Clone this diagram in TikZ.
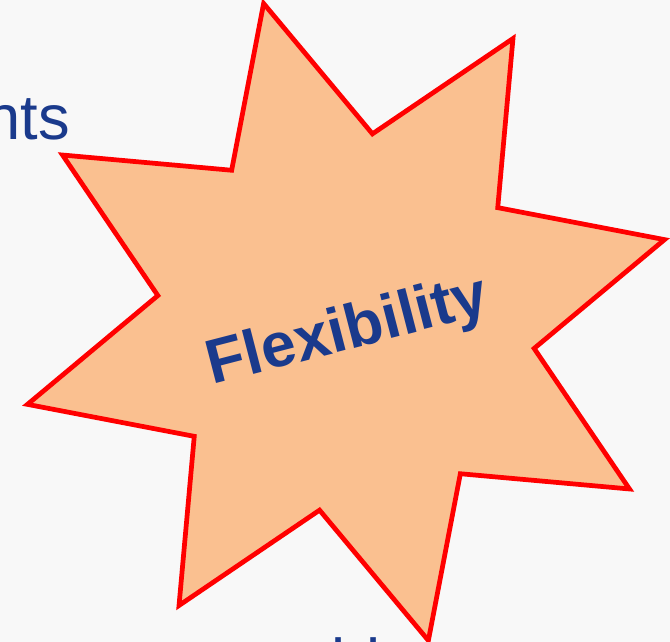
\documentclass[tikz,border=0pt]{standalone}
\usepackage{fontspec}
\setmainfont{Liberation Sans}
\usepackage{tikz}
\usetikzlibrary{positioning}
\definecolor{slideblue}{RGB}{26,58,140}
\definecolor{peach}{RGB}{250,192,144}
\definecolor{slidebg}{RGB}{248,248,248}

\begin{document}
\begin{tikzpicture}[x=0.02cm, y=-0.02cm]
        \tikzstyle{every node}=[inner sep=0pt, text=slideblue]
        \tikzstyle{burst}=[draw=red, fill=peach, line width=2.7pt]
        \tikzstyle{word}=[font=\fontsize{36}{42}\selectfont]

        \fill[slidebg] (0,0) rectangle (670,642);
        \useasboundingbox (0,0) rectangle (670,642);

        \node (nts) [word, anchor=base east] at (70,140) {nts};
        \node (bl)  [word, anchor=base west] at (331,683) {bl};

        % y points down, so the angles run clockwise
        \begin{scope}[shift={(346,322)}]
            \draw[burst] (-104.5:329)
                \foreach \i in {0,...,7} {
                    -- ({-104.5+45*\i+22.5}:190) -- ({-104.5+45*\i+45}:329)
                } -- cycle;
        \end{scope}

        \node (flex) [rotate=14.5, font=\fontsize{35.5}{40}\selectfont\bfseries]
            at (348,333) {Flexibility};

    \end{tikzpicture}
\end{document}
